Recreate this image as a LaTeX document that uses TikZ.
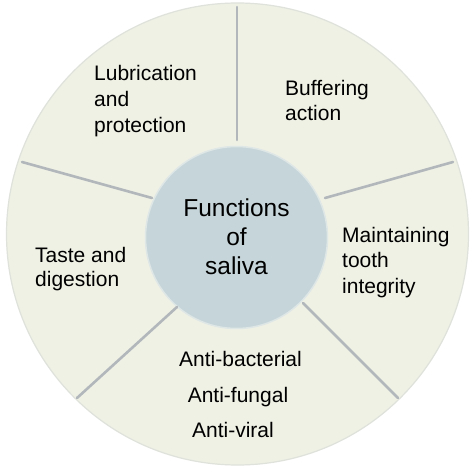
\documentclass[tikz,border=0pt]{standalone}
\usepackage{fontspec}
\setmainfont{Liberation Sans}
\definecolor{outerfill}{RGB}{239,241,229}
\definecolor{outerline}{RGB}{222,226,218}
\definecolor{innerfill}{RGB}{198,213,217}
\definecolor{innerline}{RGB}{222,230,230}
\definecolor{divider}{RGB}{178,183,188}
\begin{document}
\begin{tikzpicture}[x=1pt,y=-1pt,
  lbl/.style={inner sep=0pt,anchor=base west,font=\fontsize{21}{21}\selectfont,text=black},
  clbl/.style={inner sep=0pt,anchor=base,font=\fontsize{21}{21}\selectfont,text=black},
  ctr/.style={inner sep=0pt,anchor=base,font=\fontsize{24.5}{24.5}\selectfont,text=black},
  divline/.style={draw=divider,line width=2.6pt,line cap=round}]
\useasboundingbox (0,0) rectangle (474,473);
\fill[white] (0,0) rectangle (474,473);
% outer disc
\filldraw[fill=outerfill,draw=outerline,line width=1.2pt] (237.5,234) circle[radius=231];
% inner disc
\filldraw[fill=innerfill,draw=innerline,line width=1.5pt] (236.5,237.5) circle[radius=91];
% divider end points
\coordinate (t1) at (237,7);   \coordinate (t2) at (237,140);
\coordinate (ur1) at (453,162); \coordinate (ur2) at (325,198);
\coordinate (ul1) at (22,162);  \coordinate (ul2) at (152,198);
\coordinate (ll1) at (77,398);  \coordinate (ll2) at (177,307);
\coordinate (lr1) at (398,398); \coordinate (lr2) at (303,303);
\draw[divline] (t1) -- (t2);
\draw[divline] (ur1) -- (ur2);
\draw[divline] (ul1) -- (ul2);
\draw[divline] (ll1) -- (ll2);
\draw[divline] (lr1) -- (lr2);
% centre text
\node[ctr] (c1) at (236.5,217) {Functions};
\node[ctr] (c2) at (236.5,246) {of};
\node[ctr] (c3) at (236.5,275) {saliva};
% sectors
\node[lbl] (a1) at (94,81) {Lubrication};
\node[lbl] (a2) at (94,107) {and};
\node[lbl] (a3) at (94,133) {protection};
\node[lbl] (b1) at (285,96) {Buffering};
\node[lbl] (b2) at (285,121) {action};
\node[lbl] (m1) at (342,243) {Maintaining};
\node[lbl] (m2) at (342,268) {tooth};
\node[lbl] (m3) at (342,294) {integrity};
\node[lbl] (d1) at (35,262) {Taste and};
\node[lbl] (d2) at (35,287) {digestion};
\node[clbl] (x1) at (240.5,366) {Anti-bacterial};
\node[clbl] (x2) at (238,402) {Anti-fungal};
\node[clbl] (x3) at (233,437) {Anti-viral};
\end{tikzpicture}
\end{document}
